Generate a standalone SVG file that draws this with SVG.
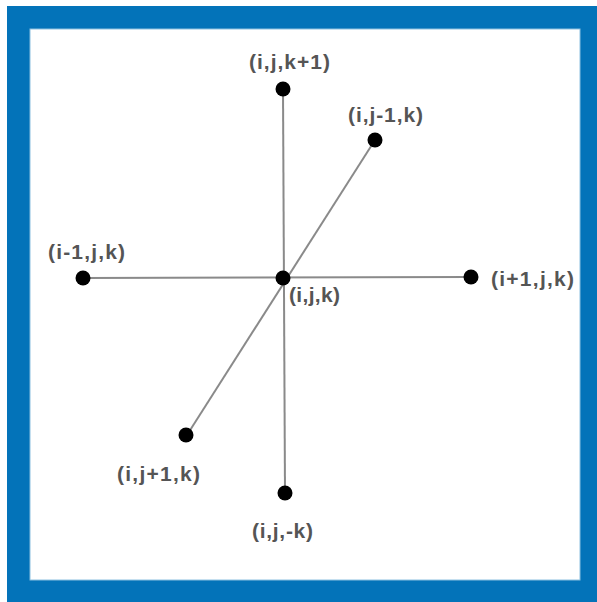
<svg xmlns="http://www.w3.org/2000/svg" width="597" height="602" viewBox="0 0 597 602">
<style>
.dot{fill:#000}
.lbl{font-family:"Liberation Sans",Arial,sans-serif;font-size:21px;font-weight:bold;fill:#555}
.edge{stroke:#8a8a8a;stroke-width:2;fill:none}
</style>
<rect x="0" y="0" width="597" height="602" fill="#fff"/>
<rect x="7" y="6" width="590" height="596" fill="#0373B9"/>
<rect x="30" y="29" width="550" height="551" fill="#fff" stroke="#8cc0e0" stroke-width="1"/>
<g id="connectors">
<line class="edge" x1="283" y1="89" x2="285" y2="493"/>
<line class="edge" x1="83" y1="278" x2="471" y2="277"/>
<line class="edge" x1="375" y1="140" x2="187" y2="435"/>
</g>
<g id="n_center"><circle class="dot" cx="283" cy="278" r="7.5"/><text class="lbl" x="289" y="302" textLength="51" lengthAdjust="spacing">(i,j,k)</text></g>
<g id="n_top"><circle class="dot" cx="283" cy="89" r="7.5"/><text class="lbl" x="249" y="69" textLength="81" lengthAdjust="spacing">(i,j,k+1)</text></g>
<g id="n_back"><circle class="dot" cx="375" cy="140" r="7.5"/><text class="lbl" x="348" y="122" textLength="75" lengthAdjust="spacing">(i,j-1,k)</text></g>
<g id="n_left"><circle class="dot" cx="83" cy="278" r="7.5"/><text class="lbl" x="48" y="259" textLength="77" lengthAdjust="spacing">(i-1,j,k)</text></g>
<g id="n_right"><circle class="dot" cx="471" cy="277" r="7.5"/><text class="lbl" x="491" y="286" textLength="83" lengthAdjust="spacing">(i+1,j,k)</text></g>
<g id="n_front"><circle class="dot" cx="186" cy="435" r="7.5"/><text class="lbl" x="117" y="481" textLength="83" lengthAdjust="spacing">(i,j+1,k)</text></g>
<g id="n_bottom"><circle class="dot" cx="285" cy="493" r="7.5"/><text class="lbl" x="252" y="538" textLength="61" lengthAdjust="spacing">(i,j,-k)</text></g>
</svg>
